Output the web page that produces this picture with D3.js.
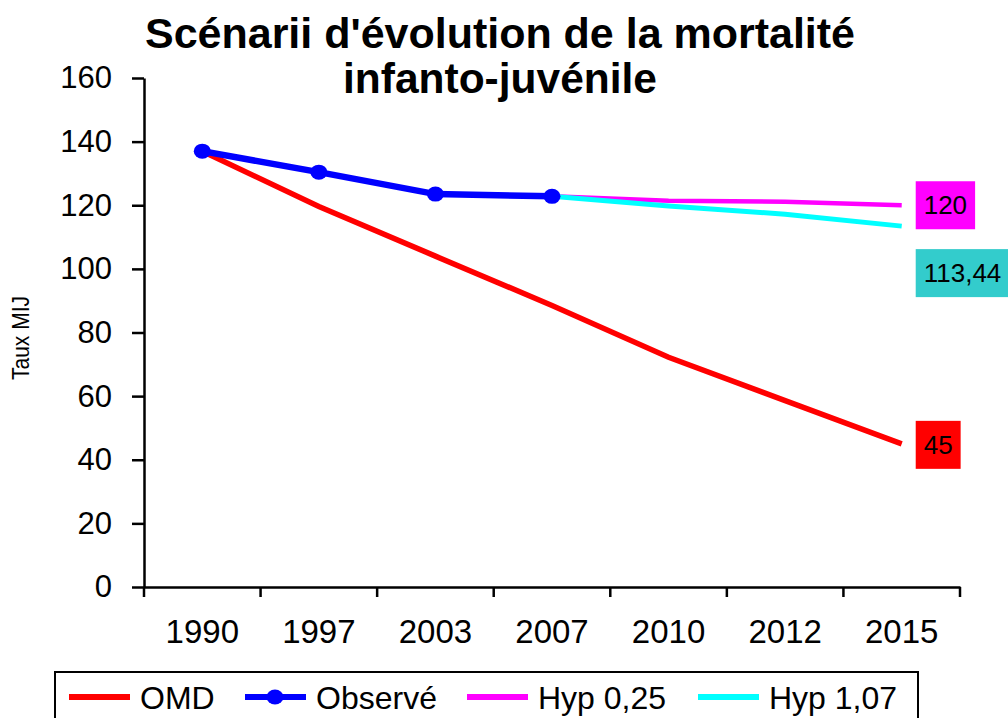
<!DOCTYPE html>
<html>
<head>
<meta charset="utf-8">
<script src="https://cdn.jsdelivr.net/npm/d3@7"></script>
<style>
  body { margin: 0; background: #fff; }
  svg { font-family: "Liberation Sans", Arial, sans-serif; }
</style>
</head>
<body>
<svg id="chart" width="1008" height="718"></svg>
<script>
// données
let annees = ["1990", "1997", "2003", "2007", "2010", "2012", "2015"];
let omd = [137, 119.6, 104, 88.5, 72.2, 58.6, 45];
let observe = [137, 130.4, 123.5, 122.8];
let hyp025 = [null, null, null, 122.8, 121.4, 121.1, 120];
let hyp107 = [null, null, null, 122.8, 119.8, 117.2, 113.44];
let yTicks = [0, 20, 40, 60, 80, 100, 120, 140, 160];

// étiquettes de fin de série
let etiquettes = [
  {texte: "120", valeur: 120, couleur: "#ff00ff", dy: 0},
  {texte: "113,44", valeur: 113.44, couleur: "#33cccc", dy: 47},
  {texte: "45", valeur: 45, couleur: "#ff0000", dy: 1}
];

let svg = d3.select("#chart");

let x = d3.scaleBand().domain(annees).range([144, 960]).padding(0);
let y = d3.scaleLinear().domain([0, 160]).range([587, 78]);
let cx = function(i) { return x(annees[i]) + x.bandwidth() / 2; };

// titre
let titre = svg.append("g").attr("font-weight", "bold").attr("font-size", 43).attr("text-anchor", "middle");
titre.append("text").attr("x", 500).attr("y", 48)
  .attr("textLength", 710).attr("lengthAdjust", "spacingAndGlyphs")
  .text("Scénarii d'évolution de la mortalité");
titre.append("text").attr("x", 500).attr("y", 93)
  .attr("textLength", 314).attr("lengthAdjust", "spacingAndGlyphs")
  .text("infanto-juvénile");

// axe y
let gy = svg.append("g")
  .attr("transform", "translate(144,0)")
  .call(d3.axisLeft(y).tickValues(yTicks).tickSize(12).tickSizeOuter(0).tickPadding(20));
gy.selectAll("text").attr("font-size", 31).attr("fill", "#000");
gy.selectAll("line, path").attr("stroke", "#000").attr("stroke-width", 2.5);

// axe x
let gx = svg.append("g")
  .attr("transform", "translate(0,587)")
  .call(d3.axisBottom(x).tickSize(0).tickPadding(33));
gx.selectAll("text").attr("font-size", 33).attr("fill", "#000");
gx.select(".domain").attr("stroke", "#000").attr("stroke-width", 2.5);
let bornes = annees.map(function(d) { return x(d); }).concat([x.range()[1]]);
gx.selectAll(".borne").data(bornes).enter().append("line")
  .attr("x1", function(d) { return d; }).attr("x2", function(d) { return d; })
  .attr("y1", 0).attr("y2", 10)
  .attr("stroke", "#000").attr("stroke-width", 2.5);

// titre axe y
svg.append("text")
  .attr("transform", "translate(29,338) rotate(-90)")
  .attr("text-anchor", "middle")
  .attr("font-size", 23)
  .attr("textLength", 84).attr("lengthAdjust", "spacingAndGlyphs")
  .text("Taux MIJ");

// lignes
let ligne = d3.line()
  .defined(function(d) { return d != null; })
  .x(function(d, i) { return cx(i); })
  .y(function(d) { return y(d); });

svg.append("path").datum(hyp025).attr("d", ligne)
  .attr("fill", "none").attr("stroke", "#ff00ff").attr("stroke-width", 4.5);
svg.append("path").datum(hyp107).attr("d", ligne)
  .attr("fill", "none").attr("stroke", "#00ffff").attr("stroke-width", 5);
svg.append("path").datum(omd).attr("d", ligne)
  .attr("fill", "none").attr("stroke", "#ff0000").attr("stroke-width", 5.5);
svg.append("path").datum(observe).attr("d", ligne)
  .attr("fill", "none").attr("stroke", "#0000ff").attr("stroke-width", 6.5);
svg.selectAll(".pt").data(observe).enter().append("ellipse")
  .attr("cx", function(d, i) { return cx(i); })
  .attr("cy", function(d) { return y(d); })
  .attr("rx", 8.5).attr("ry", 7.5)
  .attr("fill", "#0000ff");

// étiquettes
let xFin = cx(annees.length - 1);
etiquettes.forEach(function(e) {
  let g = svg.append("g");
  let t = g.append("text")
    .attr("x", xFin + 22).attr("y", y(e.valeur) + e.dy)
    .attr("dy", "0.35em")
    .attr("font-size", 26)
    .text(e.texte);
  let b = t.node().getBBox();
  g.insert("rect", "text")
    .attr("x", b.x - 8).attr("y", y(e.valeur) + e.dy - 24)
    .attr("width", b.width + 16).attr("height", 48)
    .attr("fill", e.couleur);
});

// légende
let legende = [
  {nom: "OMD", couleur: "#ff0000", x0: 69, marque: false},
  {nom: "Observé", couleur: "#0000ff", x0: 245, marque: true},
  {nom: "Hyp 0,25", couleur: "#ff00ff", x0: 467, marque: false},
  {nom: "Hyp 1,07", couleur: "#00ffff", x0: 698, marque: false}
];
svg.append("rect")
  .attr("x", 55).attr("y", 672).attr("width", 863).attr("height", 60)
  .attr("fill", "#fff").attr("stroke", "#000").attr("stroke-width", 2);
legende.forEach(function(l) {
  svg.append("line")
    .attr("x1", l.x0).attr("x2", l.x0 + 61).attr("y1", 697).attr("y2", 697)
    .attr("stroke", l.couleur).attr("stroke-width", 6);
  if (l.marque) {
    svg.append("ellipse").attr("cx", l.x0 + 30).attr("cy", 697)
      .attr("rx", 8.5).attr("ry", 7.5).attr("fill", l.couleur);
  }
  svg.append("text")
    .attr("x", l.x0 + 71).attr("y", 709)
    .attr("font-size", 32)
    .text(l.nom);
});
</script>
</body>
</html>
